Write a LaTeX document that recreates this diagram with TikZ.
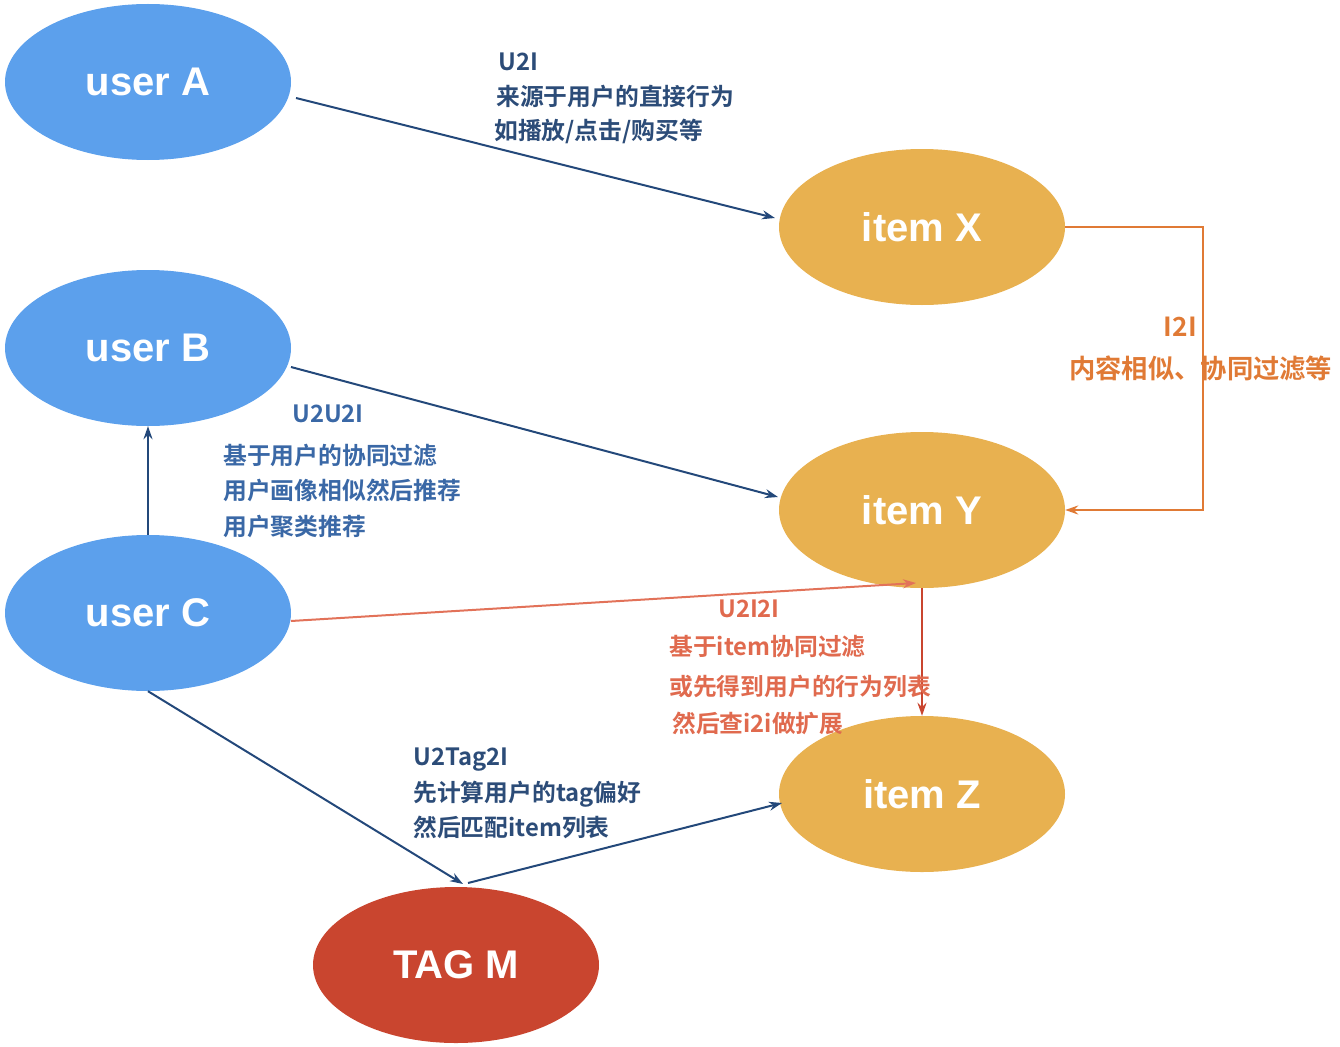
\documentclass[tikz,border=0pt]{standalone}
\usepackage{fontspec}
\newfontfamily\cjk{Noto Sans CJK SC}[BoldFont={Noto Sans CJK SC Bold}]
\newfontfamily\lab{Liberation Sans}
\usetikzlibrary{shapes.geometric,arrows.meta}
\definecolor{ublue}{HTML}{5CA0EC}
\definecolor{iorange}{HTML}{E8B150}
\definecolor{tred}{HTML}{C9452F}
\definecolor{navy}{HTML}{23487A}
\definecolor{tnavy}{HTML}{2C4C78}
\definecolor{tblue}{HTML}{3A68A6}
\definecolor{tsalmon}{HTML}{E06A4E}
\definecolor{lsalmon}{HTML}{E27259}
\definecolor{lred}{HTML}{C9452F}
\definecolor{torange}{HTML}{E07A35}
\begin{document}
\begin{tikzpicture}[x=1pt,y=-1pt,
  ell/.style={ellipse,minimum width=286pt,minimum height=156pt,inner sep=0pt,text=white,font=\lab\bfseries\fontsize{40}{44}\selectfont},
  user/.style={ell,fill=ublue},
  item/.style={ell,fill=iorange},
  tag/.style={ell,fill=tred},
  conn/.style={line width=2pt,-{Stealth[length=13pt,width=9pt]}},
  txt/.style={anchor=west,inner sep=0pt,font=\cjk\bfseries\fontsize{23.8}{26}\selectfont},
  bigtxt/.style={anchor=west,inner sep=0pt,font=\cjk\bfseries\fontsize{26.3}{29}\selectfont}
]
\useasboundingbox (0,0) rectangle (1340,1046);
\node[user] (ua) at (148,82) {user A};
\node[user] (ub) at (148,348) {user B};
\node[user] (uc) at (148,613) {user C};
\node[item] (ix) at (922,227) {item X};
\node[item] (iy) at (922,510) {item Y};
\node[item] (iz) at (922,794) {item Z};
\node[tag] (tm) at (456,965) {TAG M};

% U2I
\coordinate (a1) at (296,98);
\coordinate (x1) at (775,218);
\draw[conn,navy] (a1) -- (x1);
\node[txt,text=tnavy] (l1) at (498,62) {U2I};
\node[txt,text=tnavy] (l2) at (496,96) {来源于用户的直接行为};
\node[txt,text=tnavy] (l3) at (494,131) {如播放/点击/购买等};

% U2U2I
\coordinate (b1) at (291,367);
\coordinate (y1) at (778,497);
\draw[conn,navy] (b1) -- (y1);
\draw[conn,navy] (uc.north) -- (ub.south);
\node[txt,text=tblue] (m1) at (292,414) {U2U2I};
\node[txt,text=tblue] (m2) at (223,455) {基于用户的协同过滤};
\node[txt,text=tblue] (m3) at (223,490) {用户画像相似然后推荐};
\node[txt,text=tblue] (m4) at (223,526) {用户聚类推荐};

% I2I
\node[bigtxt,text=torange,anchor=east] (n1) at (1197,327) {I2I};
\node[bigtxt,text=torange] (n2) at (1069,368) {内容相似、协同过滤等};
\coordinate (c1) at (1203,227);
\coordinate (c2) at (1203,510);
\draw[line width=2pt,torange,-{Stealth[length=13pt,width=9pt]}] (ix.east) -- (c1) -- (c2) -- (iy.east);

% U2I2I
\coordinate (c3) at (291,621);
\coordinate (y2) at (916,583);
\draw[conn,lsalmon] (c3) -- (y2);
\draw[conn,lred] (iy.south) -- (iz.north);
\node[txt,text=tsalmon] (o1) at (718,609) {U2I2I};
\node[txt,text=tsalmon] (o2) at (669,647) {基于item协同过滤};
\node[txt,text=tsalmon] (o3) at (669,686) {或先得到用户的行为列表};
\node[txt,text=tsalmon] (o4) at (672,723) {然后查i2i做扩展};

% U2Tag2I
\coordinate (t1) at (463,884);
\coordinate (t2) at (468,883);
\coordinate (z1) at (782,803);
\draw[conn,navy] (uc.south) -- (t1);
\draw[conn,navy] (t2) -- (z1);
\node[txt,text=tnavy] (p1) at (413,760) {U2Tag2I};
\node[txt,text=tnavy] (p2) at (413,794) {先计算用户的tag偏好};
\node[txt,text=tnavy] (p3) at (413,827) {然后匹配item列表};
\end{tikzpicture}
\end{document}
